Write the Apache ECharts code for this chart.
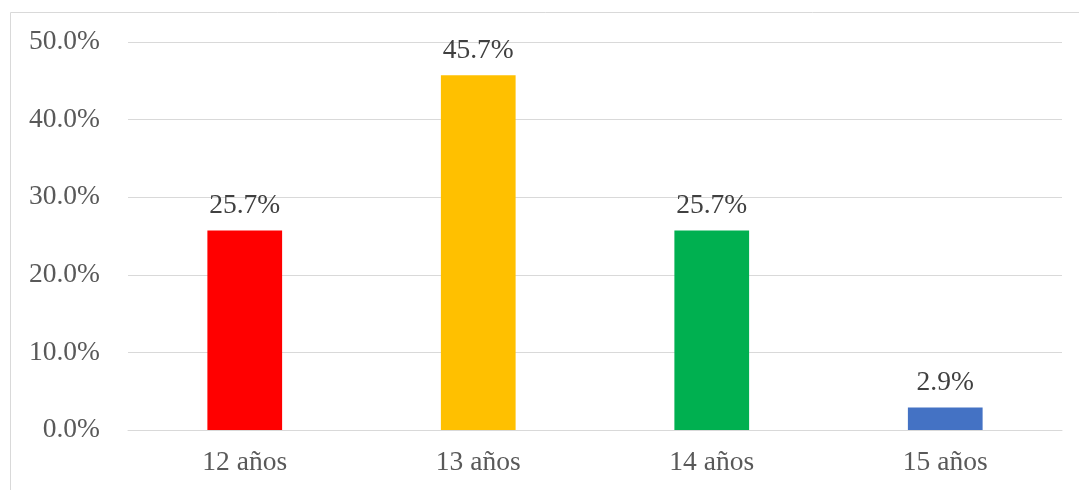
<!DOCTYPE html>
<html>
<head>
<meta charset="utf-8">
<style>
  html, body { margin: 0; padding: 0; background: #fff; }
  #chart { width: 1079px; height: 490px; }
</style>
<script src="https://cdn.jsdelivr.net/npm/echarts@6/dist/echarts.min.js"></script>
</head>
<body>
<div id="chart"></div>
<script>
var categories = ['12 años', '13 años', '14 años', '15 años'];
var values = [25.7, 45.7, 25.7, 2.9];
var barColors = ['#ff0000', '#ffc000', '#00b050', '#4472c4'];

var app = echarts.init(document.getElementById('chart'));

var option = {
    animation: false,
    graphic: [{
        type: 'rect',
        shape: { x: 10.5, y: 12.5, width: 1200, height: 600 },
        style: { fill: 'none', stroke: '#d9d9d9', lineWidth: 1 },
        silent: true
    }],
    grid: {
        left: 128,
        right: 17,
        top: 42,
        bottom: 60
    },
    xAxis: {
        type: 'category',
        data: categories,
        axisLine: { lineStyle: { color: '#d9d9d9' } },
        axisTick: { show: false },
        axisLabel: {
            color: '#595959',
            fontFamily: 'Liberation Serif',
            fontSize: 27.5,
            margin: 19
        }
    },
    yAxis: {
        type: 'value',
        min: 0,
        max: 50,
        interval: 10,
        axisLine: { show: false },
        axisTick: { show: false },
        splitLine: { lineStyle: { color: '#d9d9d9' } },
        axisLabel: {
            color: '#595959',
            fontFamily: 'Liberation Serif',
            fontSize: 27.5,
            margin: 28,
            formatter: function (v) { return v.toFixed(1) + '%'; }
        }
    },
    series: [{
        type: 'bar',
        barWidth: '32%',
        data: values.map(function (v, i) {
            return { value: v, itemStyle: { color: barColors[i] } };
        }),
        label: {
            show: true,
            position: 'top',
            distance: 11,
            color: '#404040',
            fontFamily: 'Liberation Serif',
            fontSize: 27.5,
            formatter: function (p) { return p.value.toFixed(1) + '%'; }
        }
    }]
};

app.setOption(option);
</script>
</body>
</html>
